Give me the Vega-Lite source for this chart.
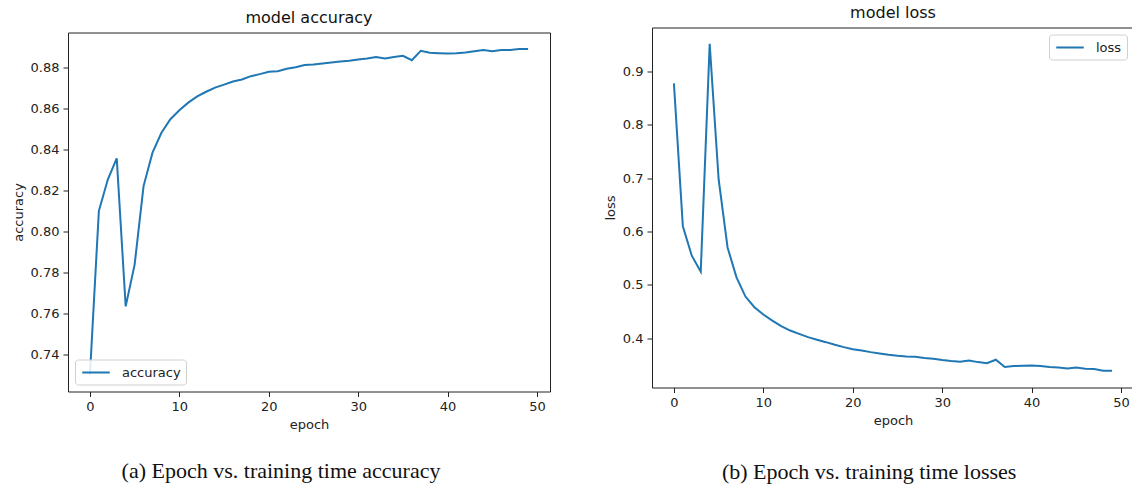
{
  "$schema": "https://vega.github.io/schema/vega-lite/v6.json",
  "padding": {"left": 11, "top": -16.5, "right": 0, "bottom": 0},
  "background": "white",
  "spacing": 52,
  "resolve": {"scale": {"color": "independent"}, "legend": {"color": "independent"}},
  "datasets": {
    "acc": [
      {"epoch": 0, "accuracy": 0.7298}, {"epoch": 1, "accuracy": 0.8098}, {"epoch": 2, "accuracy": 0.8252}, {"epoch": 3, "accuracy": 0.8355},
      {"epoch": 4, "accuracy": 0.7633}, {"epoch": 5, "accuracy": 0.7837}, {"epoch": 6, "accuracy": 0.8220}, {"epoch": 7, "accuracy": 0.8383},
      {"epoch": 8, "accuracy": 0.8480}, {"epoch": 9, "accuracy": 0.8546}, {"epoch": 10, "accuracy": 0.8590}, {"epoch": 11, "accuracy": 0.8627},
      {"epoch": 12, "accuracy": 0.8657}, {"epoch": 13, "accuracy": 0.8680}, {"epoch": 14, "accuracy": 0.8700}, {"epoch": 15, "accuracy": 0.8715},
      {"epoch": 16, "accuracy": 0.8730}, {"epoch": 17, "accuracy": 0.8740}, {"epoch": 18, "accuracy": 0.8756}, {"epoch": 19, "accuracy": 0.8766},
      {"epoch": 20, "accuracy": 0.8777}, {"epoch": 21, "accuracy": 0.8780}, {"epoch": 22, "accuracy": 0.8792}, {"epoch": 23, "accuracy": 0.8800},
      {"epoch": 24, "accuracy": 0.8810}, {"epoch": 25, "accuracy": 0.8813}, {"epoch": 26, "accuracy": 0.8818}, {"epoch": 27, "accuracy": 0.8823},
      {"epoch": 28, "accuracy": 0.8828}, {"epoch": 29, "accuracy": 0.8831}, {"epoch": 30, "accuracy": 0.8837}, {"epoch": 31, "accuracy": 0.8842},
      {"epoch": 32, "accuracy": 0.8850}, {"epoch": 33, "accuracy": 0.8842}, {"epoch": 34, "accuracy": 0.8850}, {"epoch": 35, "accuracy": 0.8855},
      {"epoch": 36, "accuracy": 0.8834}, {"epoch": 37, "accuracy": 0.8880}, {"epoch": 38, "accuracy": 0.8870}, {"epoch": 39, "accuracy": 0.8868},
      {"epoch": 40, "accuracy": 0.8866}, {"epoch": 41, "accuracy": 0.8868}, {"epoch": 42, "accuracy": 0.8871}, {"epoch": 43, "accuracy": 0.8877},
      {"epoch": 44, "accuracy": 0.8883}, {"epoch": 45, "accuracy": 0.8877}, {"epoch": 46, "accuracy": 0.8884}, {"epoch": 47, "accuracy": 0.8884},
      {"epoch": 48, "accuracy": 0.8889}, {"epoch": 49, "accuracy": 0.8889}
    ],
    "loss": [
      {"epoch": 0, "loss": 0.8776}, {"epoch": 1, "loss": 0.6095}, {"epoch": 2, "loss": 0.5546}, {"epoch": 3, "loss": 0.5247},
      {"epoch": 4, "loss": 0.9517}, {"epoch": 5, "loss": 0.6980}, {"epoch": 6, "loss": 0.5700}, {"epoch": 7, "loss": 0.5140},
      {"epoch": 8, "loss": 0.4780}, {"epoch": 9, "loss": 0.4580}, {"epoch": 10, "loss": 0.4443}, {"epoch": 11, "loss": 0.4330},
      {"epoch": 12, "loss": 0.4224}, {"epoch": 13, "loss": 0.4143}, {"epoch": 14, "loss": 0.4080}, {"epoch": 15, "loss": 0.4019},
      {"epoch": 16, "loss": 0.3970}, {"epoch": 17, "loss": 0.3925}, {"epoch": 18, "loss": 0.3875}, {"epoch": 19, "loss": 0.3832},
      {"epoch": 20, "loss": 0.3794}, {"epoch": 21, "loss": 0.3770}, {"epoch": 22, "loss": 0.3738}, {"epoch": 23, "loss": 0.3713},
      {"epoch": 24, "loss": 0.3688}, {"epoch": 25, "loss": 0.3670}, {"epoch": 26, "loss": 0.3657}, {"epoch": 27, "loss": 0.3650},
      {"epoch": 28, "loss": 0.3626}, {"epoch": 29, "loss": 0.3613}, {"epoch": 30, "loss": 0.3589}, {"epoch": 31, "loss": 0.3570},
      {"epoch": 32, "loss": 0.3557}, {"epoch": 33, "loss": 0.3582}, {"epoch": 34, "loss": 0.3551}, {"epoch": 35, "loss": 0.3532},
      {"epoch": 36, "loss": 0.3595}, {"epoch": 37, "loss": 0.3458}, {"epoch": 38, "loss": 0.3476}, {"epoch": 39, "loss": 0.3482},
      {"epoch": 40, "loss": 0.3489}, {"epoch": 41, "loss": 0.3476}, {"epoch": 42, "loss": 0.3458}, {"epoch": 43, "loss": 0.3451},
      {"epoch": 44, "loss": 0.3433}, {"epoch": 45, "loss": 0.3451}, {"epoch": 46, "loss": 0.3426}, {"epoch": 47, "loss": 0.3420},
      {"epoch": 48, "loss": 0.3390}, {"epoch": 49, "loss": 0.3390}
    ]
  },
  "config": {
    "view": {"stroke": "#222222", "strokeWidth": 1},
    "title": {"font": "DejaVu Sans", "fontSize": 16, "fontWeight": "normal", "color": "#111111", "offset": 7},
    "axis": {
      "grid": false, "domain": false, "tickColor": "#222222", "tickSize": 5, "tickWidth": 1,
      "labelFont": "DejaVu Sans", "labelFontSize": 13, "labelColor": "#222222", "labelPadding": 4, "labelFlush": false,
      "titleFont": "DejaVu Sans", "titleFontSize": 13, "titleFontWeight": "normal", "titleColor": "#222222", "titlePadding": 5
    },
    "legend": {
      "strokeColor": "#d0d0d0", "fillColor": "rgba(255,255,255,0.85)", "cornerRadius": 3, "padding": 5,
      "symbolType": "M-2,0H2", "symbolStrokeWidth": 2, "symbolSize": 189, "symbolStrokeColor": "#1f77b4", "symbolOffset": 8,
      "labelFont": "DejaVu Sans", "labelFontSize": 13, "labelColor": "#222222", "labelOffset": 18, "title": null, "offset": 7
    }
  },
  "hconcat": [
    {
      "title": {"text": "(a) Epoch vs. training time accuracy", "orient": "bottom", "frame": "bounds", "anchor": "middle", "font": "Liberation Serif", "fontSize": 22, "offset": 29, "color": "#111111"},
      "resolve": {"scale": {"color": "independent"}, "legend": {"color": "independent"}},
      "spacing": 5,
      "vconcat": [
        {
          "data": {"values": [{}]},
          "width": 482,
          "height": 0,
          "view": {"stroke": null},
          "mark": {"type": "point", "opacity": 0, "size": 0},
          "encoding": {}
        },
        {
          "title": "model accuracy",
          "data": {"name": "acc"},
          "width": 482,
          "height": 359,
          "mark": {"type": "line", "strokeWidth": 2, "color": "#1f77b4"},
          "encoding": {
            "x": {"field": "epoch", "type": "quantitative", "title": "epoch",
                  "scale": {"domain": [-2.45, 51.45], "nice": false, "zero": false},
                  "axis": {"values": [0, 10, 20, 30, 40, 50]}},
            "y": {"field": "accuracy", "type": "quantitative", "title": "accuracy",
                  "scale": {"domain": [0.7218, 0.8969], "nice": false, "zero": false},
                  "axis": {"values": [0.74, 0.76, 0.78, 0.80, 0.82, 0.84, 0.86, 0.88], "format": ".2f"}},
            "color": {"datum": "accuracy", "type": "nominal", "scale": {"range": ["#1f77b4"]},
                      "legend": {"orient": "bottom-left"}}
          }
        }
      ]
    },
    {
      "title": {"text": "(b) Epoch vs. training time losses", "orient": "bottom", "frame": "bounds", "anchor": "middle", "font": "Liberation Serif", "fontSize": 22, "offset": 34, "color": "#111111"},
      "resolve": {"scale": {"color": "independent"}, "legend": {"color": "independent"}},
      "spacing": 0,
      "vconcat": [
        {
          "data": {"values": [{}]},
          "width": 482,
          "height": 0,
          "view": {"stroke": null},
          "mark": {"type": "point", "opacity": 0, "size": 0},
          "encoding": {}
        },
        {
          "title": "model loss",
          "data": {"name": "loss"},
          "width": 482,
          "height": 360,
          "mark": {"type": "line", "strokeWidth": 2, "color": "#1f77b4"},
          "encoding": {
            "x": {"field": "epoch", "type": "quantitative", "title": "epoch",
                  "scale": {"domain": [-2.45, 51.45], "nice": false, "zero": false},
                  "axis": {"values": [0, 10, 20, 30, 40, 50]}},
            "y": {"field": "loss", "type": "quantitative", "title": "loss",
                  "scale": {"domain": [0.3075, 0.9824], "nice": false, "zero": false},
                  "axis": {"values": [0.4, 0.5, 0.6, 0.7, 0.8, 0.9], "format": ".1f"}},
            "color": {"datum": "loss", "type": "nominal", "scale": {"range": ["#1f77b4"]},
                      "legend": {"orient": "top-right"}}
          }
        }
      ]
    }
  ]
}
